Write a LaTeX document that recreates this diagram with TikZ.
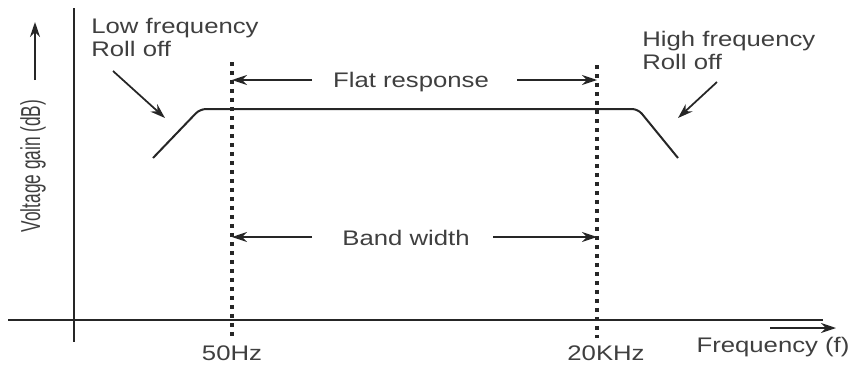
\documentclass[tikz,border=0pt]{standalone}
\usepackage{fontspec}
\setmainfont{Liberation Sans}
\usepackage{xcolor}
\usepackage{tikz}
\usetikzlibrary{arrows.meta, positioning}

\definecolor{textgray}{HTML}{3f3f3f}
\newcommand{\wide}[1]{\scalebox{1.22}[1]{#1}}

\begin{document}
\begin{tikzpicture}[
    x=0.02cm, y=-0.02cm,
    label/.style={text=textgray, font=\fontsize{12}{13.6}\selectfont, inner sep=0pt},
    axis/.style={line width=0.04cm, black!85},
    curve/.style={line width=0.04cm, black!85, rounded corners=0.12cm},
    marker/.style={line width=0.065cm, black!85, dash pattern=on 0.08cm off 0.1cm},
    arrow/.style={-{Stealth[length=0.3cm, width=0.2cm]}, line width=0.035cm, black!85}
]
    \useasboundingbox (0,0) rectangle (854,365);

    % Axes
    \coordinate (ytop) at (74,8);
    \coordinate (ybot) at (74,342);
    \coordinate (xleft) at (8,320);
    \coordinate (xright) at (823,320);
    \draw[axis] (ytop) -- (ybot);
    \draw[axis] (xleft) -- (xright);

    % Axis labels
    \node[label, rotate=90] (vgain) at (33,166) {\scalebox{0.82}[1.3]{Voltage gain (dB)}};
    \coordinate (vtail) at (35,80);
    \coordinate (vhead) at (35,22);
    \draw[arrow] (vtail) -- (vhead);

    \node[label, anchor=base] (freq) at (773,352) {\wide{Frequency (f)}};
    \coordinate (ftail) at (770,328);
    \coordinate (fhead) at (836,328);
    \draw[arrow] (ftail) -- (fhead);

    % Cut-off frequencies
    \coordinate (lowtop) at (232,62);
    \coordinate (lowbot) at (232,338);
    \coordinate (hightop) at (597,65);
    \coordinate (highbot) at (597,338);
    \draw[marker] (lowtop) -- (lowbot);
    \draw[marker] (hightop) -- (highbot);
    \node[label, anchor=base] (f50) at (232,360) {\wide{50Hz}};
    \node[label, anchor=base] (f20k) at (606,360) {\wide{20KHz}};

    % Response curve
    \draw[curve] (153,158) -- (200,109) -- (638,109) -- (678,158);

    % Flat response
    \node[label, anchor=base] (flat) at (411,87) {\wide{Flat response}};
    \coordinate (flatl) at (312,80);
    \coordinate (flatr) at (517,80);
    \draw[arrow] (flatl) -- (lowtop |- flatl);
    \draw[arrow] (flatr) -- (hightop |- flatr);

    % Band width
    \node[label, anchor=base] (band) at (406,245) {\wide{Band width}};
    \coordinate (bandl) at (312,237);
    \coordinate (bandr) at (493,237);
    \draw[arrow] (bandl) -- (lowtop |- bandl);
    \draw[arrow] (bandr) -- (hightop |- bandr);

    % Roll off notes
    \node[label, anchor=base west] (lowroll) at (91,33)
        {\wide{\begin{tabular}[t]{@{}l@{}}Low frequency\\Roll off\end{tabular}}};
    \node[label, anchor=base west] (highroll) at (642,46)
        {\wide{\begin{tabular}[t]{@{}l@{}}High frequency\\Roll off\end{tabular}}};
    \coordinate (lowtip) at (165,118);
    \coordinate (hightip) at (678,118);
    \draw[arrow] (113,71) -- (lowtip);
    \draw[arrow] (717,82) -- (hightip);
\end{tikzpicture}
\end{document}
